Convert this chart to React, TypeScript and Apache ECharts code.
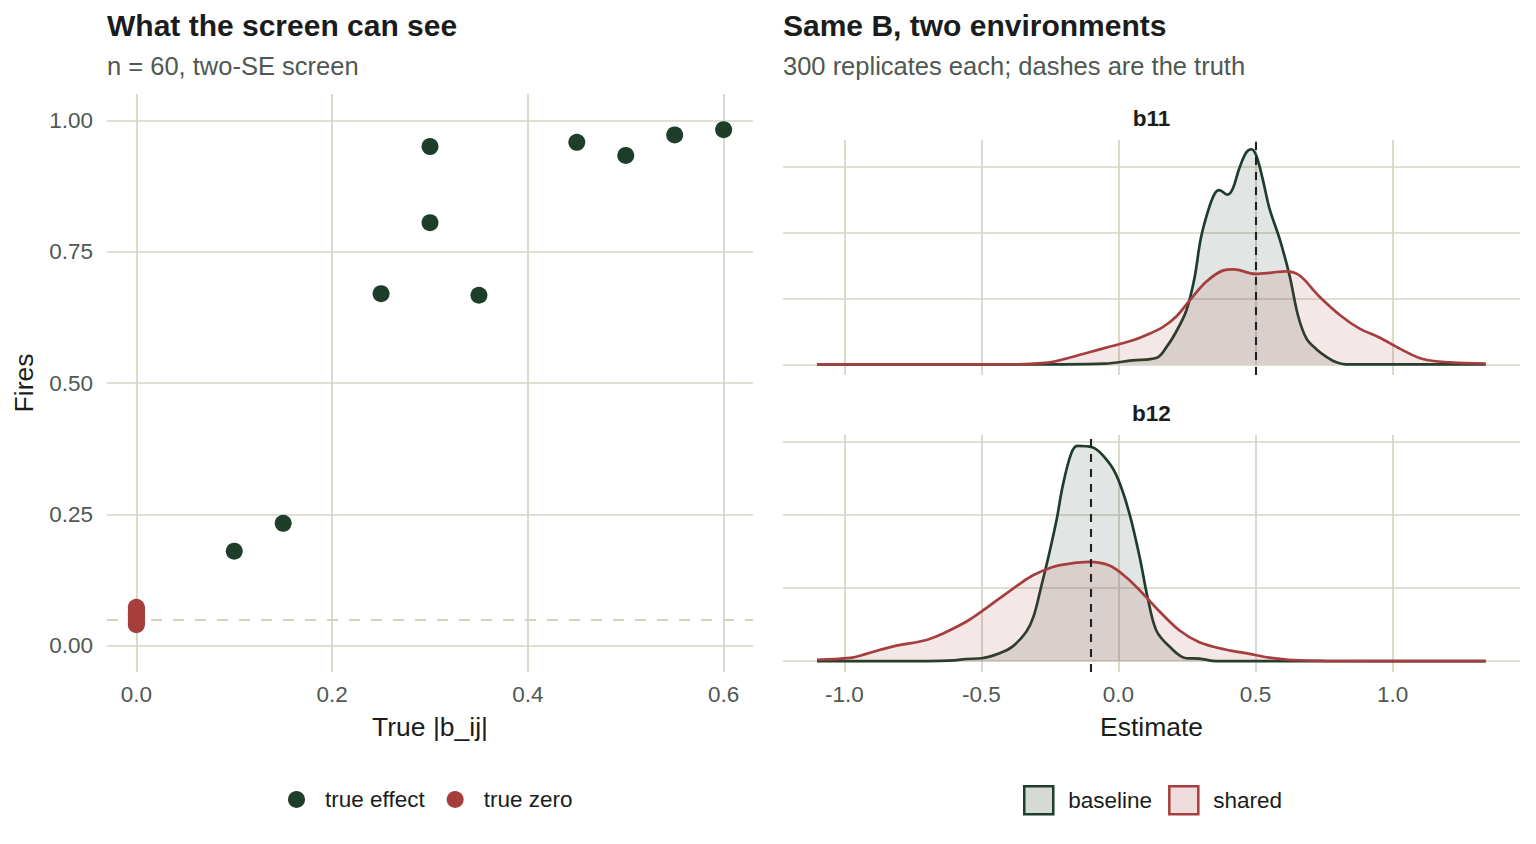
import { useEffect, useRef } from "react";
import * as echarts from "echarts";

// Palette
const GREEN = "#1f3d2b";
const RED = "#a63e3e";
const GREEN_FILL = "rgba(31, 61, 43, 0.19)";
const RED_FILL = "rgba(166, 62, 62, 0.18)";
const GRID = "#d5d5c4";
const TICK = "#4f5851";
const INK = "#1a1d1b";
const FONT = "'Liberation Sans', Arial, Helvetica, sans-serif";

// Left panel: firing rate of the screen against the true coefficient size
const effectSize = [0.1, 0.15, 0.25, 0.3, 0.3, 0.35, 0.45, 0.5, 0.55, 0.6];
const effectFires = [0.18, 0.233, 0.67, 0.95, 0.805, 0.667, 0.958, 0.933, 0.972, 0.982];
const zeroSize = [0, 0, 0, 0, 0, 0, 0, 0, 0, 0, 0];
const zeroFires = [0.04, 0.043, 0.047, 0.05, 0.053, 0.057, 0.06, 0.063, 0.067, 0.07, 0.073];
const nominalRate = 0.05;

const screenXTicks = [0, 0.2, 0.4, 0.6];
const screenYTicks = [0, 0.25, 0.5, 0.75, 1];

// Right panel: density of the estimates, per coefficient and environment
const estimateTicks = [-1, -0.5, 0, 0.5, 1];
const densityTicks = [0, 1, 2, 3];
const truthB11 = 0.5;
const truthB12 = -0.1;

const b11BaselineX = [-1.1, -0.6, -0.2, -0.05, 0.05, 0.14, 0.175, 0.21, 0.248, 0.277, 0.3, 0.325, 0.35, 0.368, 0.398, 0.417, 0.44, 0.466, 0.485, 0.503, 0.526, 0.551, 0.588, 0.624, 0.655, 0.686, 0.722, 0.76, 0.795, 0.83, 1.0, 1.34];
const b11BaselineY = [0, 0, 0, 0.01, 0.06, 0.1, 0.26, 0.49, 0.82, 1.3, 1.9, 2.3, 2.58, 2.64, 2.57, 2.66, 2.96, 3.21, 3.26, 3.16, 2.81, 2.36, 1.9, 1.35, 0.74, 0.39, 0.23, 0.11, 0.03, 0, 0, 0];

const b11SharedX = [-1.1, -0.4, -0.25, -0.18, -0.1, -0.03, 0.05, 0.1, 0.16, 0.21, 0.26, 0.32, 0.38, 0.42, 0.5, 0.56, 0.61, 0.66, 0.73, 0.81, 0.88, 0.95, 1.03, 1.11, 1.21, 1.34];
const b11SharedY = [0, 0, 0.03, 0.1, 0.19, 0.27, 0.36, 0.44, 0.56, 0.72, 0.97, 1.25, 1.42, 1.44, 1.37, 1.39, 1.41, 1.35, 1.04, 0.74, 0.54, 0.41, 0.23, 0.08, 0.03, 0.01];

const b12BaselineX = [-1.1, -0.7, -0.6, -0.556, -0.5, -0.434, -0.387, -0.337, -0.31, -0.282, -0.25, -0.225, -0.204, -0.173, -0.15, -0.095, -0.033, 0.0, 0.04, 0.077, 0.106, 0.138, 0.186, 0.247, 0.295, 0.357, 1.34];
const b12BaselineY = [0, 0, 0.01, 0.03, 0.04, 0.11, 0.2, 0.4, 0.61, 1.02, 1.52, 1.95, 2.39, 2.84, 2.95, 2.93, 2.71, 2.48, 2.02, 1.43, 0.88, 0.42, 0.2, 0.04, 0.035, 0, 0];

const b12SharedX = [-1.1, -0.98, -0.92, -0.825, -0.7, -0.64, -0.556, -0.5, -0.434, -0.36, -0.31, -0.24, -0.19, -0.106, -0.033, 0.028, 0.088, 0.15, 0.223, 0.295, 0.39, 0.478, 0.55, 0.62, 0.75, 1.34];
const b12SharedY = [0.02, 0.045, 0.1, 0.2, 0.29, 0.38, 0.54, 0.68, 0.86, 1.06, 1.18, 1.29, 1.33, 1.36, 1.31, 1.15, 0.93, 0.68, 0.42, 0.26, 0.16, 0.1, 0.05, 0.02, 0.005, 0];

const pairs = (xs: number[], ys: number[]) => xs.map((x, i) => [x, ys[i]]);

const hiddenLine = { show: false };

function valueAxis(grid: number, min: number, max: number, ticks: number[], extra: any = {}) {
  return {
    type: "value",
    gridIndex: grid,
    min,
    max,
    axisLine: hiddenLine,
    axisTick: { show: false, customValues: ticks },
    splitLine: { show: true, lineStyle: { color: GRID, width: 1.7 } },
    ...extra,
  };
}

function densitySeries(name: string, x: number[], y: number[], axis: number, color: string, fill: string, z: number) {
  return {
    name,
    type: "line",
    xAxisIndex: axis,
    yAxisIndex: axis,
    data: pairs(x, y),
    smooth: 0.35,
    symbol: "none",
    z,
    lineStyle: { color, width: 2.7 },
    itemStyle: { color },
    areaStyle: { color: fill, origin: 0 },
  };
}

function truthLine(axis: number, value: number) {
  return {
    type: "line",
    xAxisIndex: axis,
    yAxisIndex: axis,
    data: [],
    z: 6,
    silent: true,
    markLine: {
      silent: true,
      z: 6,
      symbol: "none",
      label: { show: false },
      lineStyle: { color: "#222222", width: 2.1, type: [8, 7] },
      data: [{ xAxis: value }],
    },
  };
}

export default function App() {
  const ref = useRef<HTMLDivElement>(null);

  useEffect(() => {
    if (!ref.current) return;
    const chart = echarts.init(ref.current, null, { renderer: "svg" });

    const tickLabel = { fontSize: 22.5, color: TICK, fontFamily: FONT };
    const axisName = { fontSize: 26.5, color: INK, fontFamily: FONT };

    const option: any = {
      animation: false,
      textStyle: { fontFamily: FONT },
      grid: [
        { left: 107, top: 94, width: 646, height: 578 },
        { left: 783, top: 140, width: 737, height: 235 },
        { left: 783, top: 435, width: 737, height: 237 },
      ],
      xAxis: [
        valueAxis(0, -0.03, 0.63, screenXTicks, {
          axisLabel: { ...tickLabel, customValues: screenXTicks, margin: 11, formatter: (v: number) => v.toFixed(1) },
          name: "True |b_ij|",
          nameLocation: "middle",
          nameGap: 41,
          nameTextStyle: axisName,
        }),
        valueAxis(1, -1.224, 1.465, estimateTicks, { axisLabel: { show: false } }),
        valueAxis(2, -1.224, 1.465, estimateTicks, {
          axisLabel: { ...tickLabel, customValues: estimateTicks, margin: 11, formatter: (v: number) => v.toFixed(1) },
          name: "Estimate",
          nameLocation: "middle",
          nameGap: 41,
          nameTextStyle: axisName,
        }),
      ],
      yAxis: [
        valueAxis(0, -0.05, 1.05, screenYTicks, {
          axisLabel: { ...tickLabel, customValues: screenYTicks, margin: 14, formatter: (v: number) => v.toFixed(2) },
          name: "Fires",
          nameLocation: "middle",
          nameRotate: 90,
          nameGap: 70,
          nameTextStyle: axisName,
        }),
        valueAxis(1, -0.162, 3.4, densityTicks, { axisLabel: { show: false } }),
        valueAxis(2, -0.148, 3.098, densityTicks, { axisLabel: { show: false } }),
      ],
      legend: [
        {
          left: 288,
          top: 788,
          padding: 0,
          itemGap: 22,
          itemWidth: 17,
          itemHeight: 17,
          icon: "circle",
          textStyle: { fontSize: 22.5, color: INK, fontFamily: FONT, padding: [0, 0, 0, 15] },
          data: [
            { name: "true effect", icon: "circle", itemStyle: { color: GREEN } },
            { name: "true zero", icon: "circle", itemStyle: { color: RED } },
          ],
        },
        {
          left: 1023,
          top: 785,
          padding: 0,
          itemGap: 16,
          itemWidth: 29,
          itemHeight: 28,
          textStyle: { fontSize: 22.5, color: INK, fontFamily: FONT, padding: [0, 0, 0, 10] },
          data: [
            { name: "baseline", icon: "rect", itemStyle: { color: GREEN_FILL, borderColor: GREEN, borderWidth: 2.5 } },
            { name: "shared", icon: "rect", itemStyle: { color: RED_FILL, borderColor: RED, borderWidth: 2.5 } },
          ],
        },
      ],
      graphic: [
        { type: "text", x: 107, y: 25, style: { text: "What the screen can see", font: `bold 30px ${FONT}`, fill: INK, verticalAlign: "middle" } },
        { type: "text", x: 107, y: 66.2, style: { text: "n = 60, two-SE screen", font: `25.5px ${FONT}`, fill: TICK, verticalAlign: "middle" } },
        { type: "text", x: 783, y: 25, style: { text: "Same B, two environments", font: `bold 30px ${FONT}`, fill: INK, verticalAlign: "middle" } },
        { type: "text", x: 783, y: 66.2, style: { text: "300 replicates each; dashes are the truth", font: `25.5px ${FONT}`, fill: TICK, verticalAlign: "middle" } },
        { type: "text", x: 1151.5, y: 118, style: { text: "b11", font: `bold 22.5px ${FONT}`, fill: INK, align: "center", verticalAlign: "middle" } },
        { type: "text", x: 1151.5, y: 413, style: { text: "b12", font: `bold 22.5px ${FONT}`, fill: INK, align: "center", verticalAlign: "middle" } },
      ],
      series: [
        {
          type: "line",
          xAxisIndex: 0,
          yAxisIndex: 0,
          data: [],
          z: 1,
          silent: true,
          markLine: {
            silent: true,
            z: 1,
            symbol: "none",
            label: { show: false },
            lineStyle: { color: "#d2d2bf", width: 2.2, type: [11, 11] },
            data: [{ yAxis: nominalRate }],
          },
        },
        {
          name: "true effect",
          type: "scatter",
          xAxisIndex: 0,
          yAxisIndex: 0,
          symbolSize: 17,
          z: 3,
          itemStyle: { color: GREEN, opacity: 1 },
          data: pairs(effectSize, effectFires),
        },
        {
          name: "true zero",
          type: "scatter",
          xAxisIndex: 0,
          yAxisIndex: 0,
          symbolSize: 17,
          z: 4,
          itemStyle: { color: RED, opacity: 1 },
          data: pairs(zeroSize, zeroFires),
        },
        densitySeries("baseline", b11BaselineX, b11BaselineY, 1, GREEN, GREEN_FILL, 2),
        densitySeries("shared", b11SharedX, b11SharedY, 1, RED, RED_FILL, 3),
        densitySeries("baseline", b12BaselineX, b12BaselineY, 2, GREEN, GREEN_FILL, 2),
        densitySeries("shared", b12SharedX, b12SharedY, 2, RED, RED_FILL, 3),
        truthLine(1, truthB11),
        truthLine(2, truthB12),
      ],
    };

    chart.setOption(option);
    return () => chart.dispose();
  }, []);

  return <div ref={ref} style={{ width: 1536, height: 844, position: "absolute", left: 0, top: 0, background: "#ffffff" }} />;
}
